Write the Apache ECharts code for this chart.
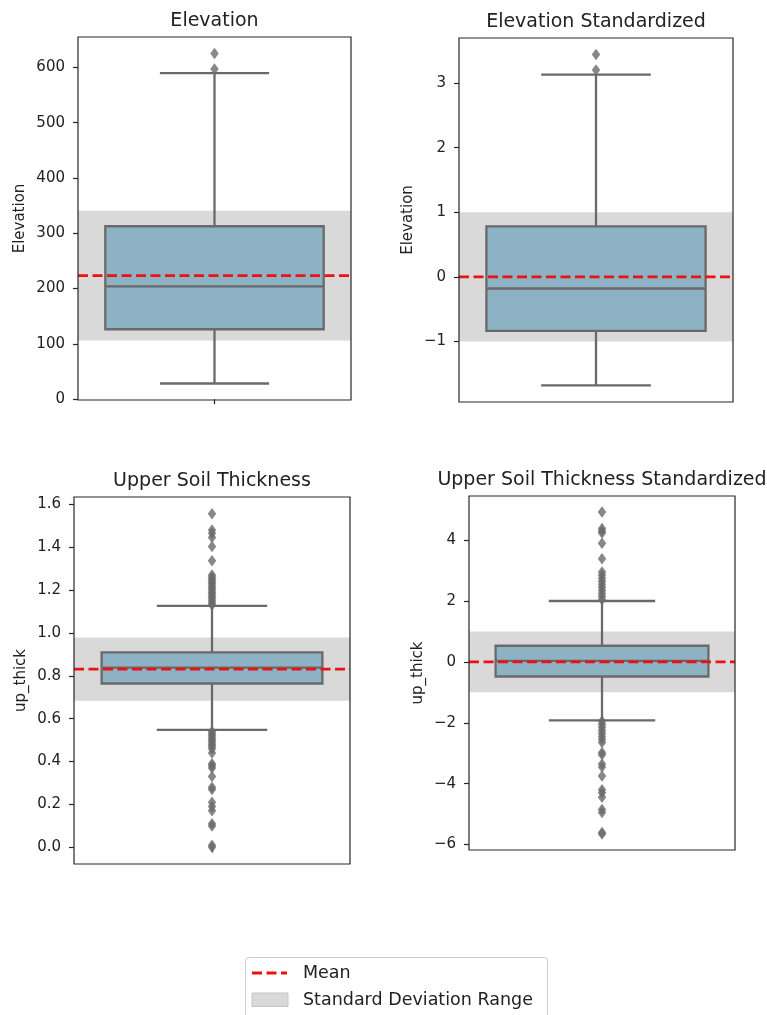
<!DOCTYPE html>
<html>
<head>
<meta charset="utf-8">
<script src="https://cdn.jsdelivr.net/npm/echarts@6/dist/echarts.min.js"></script>
<style>
html,body{margin:0;padding:0;background:#fff;}
#chart{width:767px;height:1015px;}
</style>
</head>
<body>
<div id="chart"></div>
<script>
// ---------- data ----------
const titles = ['Elevation', 'Elevation Standardized', 'Upper Soil Thickness', 'Upper Soil Thickness Standardized'];
const yNames = ['Elevation', 'Elevation', 'up_thick', 'up_thick'];

// [lower whisker, Q1, median, Q3, upper whisker]
const elevationStats = [28.4, 126.5, 204, 312.7, 589.6];
const elevationOutliers = [597, 625];
const elevationMean = 223.3;
const elevationStd = 117.3;
const elevationTicks = [0, 100, 200, 300, 400, 500, 600];

const elevationZStats = [-1.68, -0.835, -0.18, 0.78, 3.13];
const elevationZOutliers = [3.20, 3.44];
const elevationZMean = 0;
const elevationZStd = 1;
const elevationZTicks = [-1, 0, 1, 2, 3];

const soilStats = [0.548, 0.764, 0.838, 0.909, 1.126];
const soilOutliers = [1.556, 1.48, 1.465, 1.445, 1.403, 1.336, 1.27, 1.26, 1.25, 1.24, 1.23, 1.22, 1.21, 1.20, 1.19, 1.18, 1.17, 1.16, 1.15, 1.14, 1.13,
  0.54, 0.53, 0.52, 0.51, 0.50, 0.49, 0.48, 0.47, 0.46, 0.44, 0.39, 0.38, 0.37, 0.33, 0.28, 0.27, 0.21, 0.19, 0.17, 0.11, 0.10, 0.01, 0.0];
const soilMean = 0.831;
const soilStd = 0.148;
const soilTicks = [0, 0.2, 0.4, 0.6, 0.8, 1.0, 1.2, 1.4, 1.6];

const soilZStats = [-1.92, -0.48, 0.03, 0.53, 2.0];
const soilZOutliers = [4.92, 4.38, 4.30, 4.23, 3.90, 3.39, 2.95, 2.85, 2.75, 2.65, 2.55, 2.45, 2.35, 2.25, 2.15, 2.05,
  -1.95, -2.05, -2.15, -2.25, -2.35, -2.45, -2.55, -2.65, -2.98, -3.05, -3.35, -3.45, -3.75, -4.2, -4.3, -4.45, -4.85, -4.95, -5.6, -5.65];
const soilZMean = 0;
const soilZStd = 1;
const soilZTicks = [-6, -4, -2, 0, 2, 4];

const legendLabels = ['Mean', 'Standard Deviation Range'];

// ---------- styling / layout ----------
const FONT = 'DejaVu Sans';
const TXT = '#222';
const LINE = '#6a6a6a';
const BOX = '#8db2c4';
const BAND = '#d9d9d9';
const RED = '#ee1111';
const grids = [
  {left: 78, top: 37, width: 273, height: 363},
  {left: 459, top: 38, width: 274, height: 364},
  {left: 74, top: 497, width: 276, height: 367},
  {left: 469, top: 496, width: 266, height: 354}
];
const nameGaps = [50, 43, 45, 43];

const panels = [
  {stats: elevationStats, out: elevationOutliers, mean: elevationMean, std: elevationStd, ticks: elevationTicks, fmt: v => String(v)},
  {stats: elevationZStats, out: elevationZOutliers, mean: elevationZMean, std: elevationZStd, ticks: elevationZTicks, fmt: v => String(v).replace('-', '\u2212')},
  {stats: soilStats, out: soilOutliers, mean: soilMean, std: soilStd, ticks: soilTicks, fmt: v => Number(v).toFixed(1)},
  {stats: soilZStats, out: soilZOutliers, mean: soilZMean, std: soilZStd, ticks: soilZTicks, fmt: v => String(v).replace('-', '\u2212')}
];

function range(p) {
  const all = p.stats.concat(p.out);
  const lo = Math.min.apply(null, all), hi = Math.max.apply(null, all);
  const m = (hi - lo) * 0.05;
  return [lo - m, hi + m];
}

function boxRender(params, api) {
  const lo = api.coord([0, api.value(1)]);
  const q1 = api.coord([0, api.value(2)]);
  const med = api.coord([0, api.value(3)]);
  const q3 = api.coord([0, api.value(4)]);
  const hi = api.coord([0, api.value(5)]);
  const band = api.size([1, 0])[0];
  const bw = band * 0.8, cw = band * 0.4;
  const cx = med[0];
  const st = {stroke: LINE, lineWidth: 2.3, fill: null};
  return {type: 'group', children: [
    {type: 'line', shape: {x1: cx, y1: q3[1], x2: cx, y2: hi[1]}, style: st},
    {type: 'line', shape: {x1: cx, y1: q1[1], x2: cx, y2: lo[1]}, style: st},
    {type: 'line', shape: {x1: cx - cw / 2, y1: hi[1], x2: cx + cw / 2, y2: hi[1]}, style: st},
    {type: 'line', shape: {x1: cx - cw / 2, y1: lo[1], x2: cx + cw / 2, y2: lo[1]}, style: st},
    {type: 'rect', shape: {x: cx - bw / 2, y: q3[1], width: bw, height: q1[1] - q3[1]}, style: {fill: BOX, stroke: LINE, lineWidth: 2.3}},
    {type: 'line', shape: {x1: cx - bw / 2, y1: med[1], x2: cx + bw / 2, y2: med[1]}, style: st}
  ]};
}
function bandRender(params, api) {
  const cs = params.coordSys;
  const y1 = api.coord([0, api.value(1)])[1];
  const y2 = api.coord([0, api.value(2)])[1];
  return {type: 'rect', shape: {x: cs.x, y: Math.min(y1, y2), width: cs.width, height: Math.abs(y1 - y2)}, style: {fill: BAND}};
}
function meanRender(params, api) {
  const cs = params.coordSys;
  const y = api.coord([0, api.value(1)])[1];
  return {type: 'line', shape: {x1: cs.x, y1: y, x2: cs.x + cs.width, y2: y}, style: {stroke: RED, lineWidth: 2.8, lineDash: [10, 4.5]}};
}
function frameRender(params, api) {
  const cs = params.coordSys;
  return {type: 'rect', shape: {x: cs.x, y: cs.y, width: cs.width, height: cs.height}, style: {fill: null, stroke: '#262626', lineWidth: 1.2}};
}

const option = {
  animation: false,
  backgroundColor: '#fff',
  textStyle: {fontFamily: FONT},
  grid: grids.map(g => Object.assign({containLabel: false}, g)),
  xAxis: grids.map((g, i) => ({
    type: 'category', gridIndex: i, data: [''], boundaryGap: true,
    axisLine: {show: false},
    axisTick: {show: true, alignWithLabel: true, length: 5, lineStyle: {color: '#262626', width: 1.2}},
    axisLabel: {show: false},
    splitLine: {show: false}
  })),
  yAxis: panels.map((p, i) => {
    const r = range(p);
    return {
      type: 'value', gridIndex: i, min: r[0], max: r[1],
      name: yNames[i], nameLocation: 'middle', nameGap: nameGaps[i], nameRotate: 90,
      nameTextStyle: {fontFamily: FONT, fontSize: 15, color: TXT},
      axisLine: {show: false},
      axisTick: {show: true, length: 5, customValues: p.ticks, lineStyle: {color: '#262626', width: 1.2}},
      axisLabel: {show: true, customValues: p.ticks, formatter: p.fmt, margin: 13, fontFamily: FONT, fontSize: 15, color: TXT},
      splitLine: {show: false}
    };
  }),
  series: [].concat.apply([], panels.map((p, i) => [
    {type: 'custom', xAxisIndex: i, yAxisIndex: i, z: 1, renderItem: bandRender,
      data: [[0, p.mean - p.std, p.mean + p.std]], encode: {x: 0, y: [1, 2]}, silent: true},
    {type: 'custom', xAxisIndex: i, yAxisIndex: i, z: 2, renderItem: boxRender,
      data: [[0].concat(p.stats)], encode: {x: 0, y: [1, 2, 3, 4, 5]}},
    {type: 'scatter', xAxisIndex: i, yAxisIndex: i, z: 3, symbol: 'diamond', symbolSize: [8.5, 11.5],
      itemStyle: {color: LINE}, data: p.out.map(v => [0, v])},
    {type: 'custom', xAxisIndex: i, yAxisIndex: i, z: 4, renderItem: meanRender,
      data: [[0, p.mean]], encode: {x: 0, y: 1}, silent: true},
    {type: 'custom', xAxisIndex: i, yAxisIndex: i, z: 5, renderItem: frameRender,
      data: [[0, p.mean]], encode: {x: 0, y: 1}, silent: true}
  ])),
  graphic: [].concat(
    grids.map((g, i) => ({
      type: 'text', x: g.left + g.width / 2, y: g.top - 16,
      style: {text: titles[i], fontFamily: FONT, fontSize: 19, fill: TXT, textAlign: 'center', textVerticalAlign: 'middle'}
    })),
    [
      {type: 'rect', shape: {x: 245.5, y: 957.5, width: 302, height: 70, r: 3}, style: {fill: '#fff', stroke: '#cccccc', lineWidth: 1}},
      {type: 'line', shape: {x1: 252, y1: 973, x2: 287, y2: 973}, style: {stroke: RED, lineWidth: 2.8, lineDash: [10, 4.5]}},
      {type: 'rect', shape: {x: 252, y: 993, width: 36, height: 13.5}, style: {fill: BAND, stroke: '#c4c4c4', lineWidth: 1}},
      {type: 'text', x: 303, y: 973, style: {text: legendLabels[0], fontFamily: FONT, fontSize: 17.5, fill: TXT, textVerticalAlign: 'middle'}},
      {type: 'text', x: 303, y: 1000, style: {text: legendLabels[1], fontFamily: FONT, fontSize: 17.5, fill: TXT, textVerticalAlign: 'middle'}}
    ]
  )
};

const chart = echarts.init(document.getElementById('chart'));
chart.setOption(option);
</script>
</body>
</html>
